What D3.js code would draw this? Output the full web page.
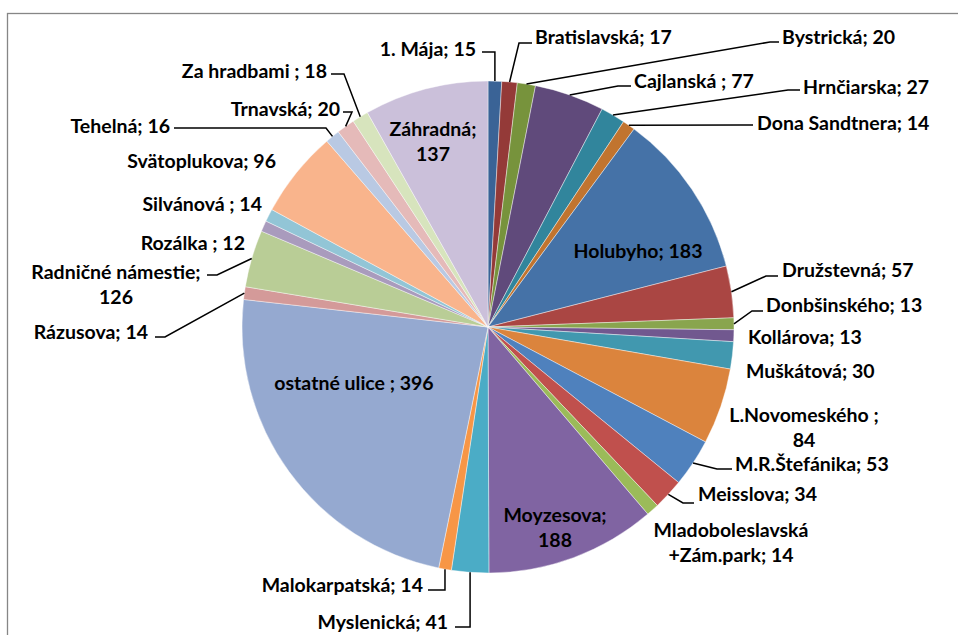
<!DOCTYPE html>
<html lang="sk">
<head>
<meta charset="utf-8">
<title>Ulice</title>
<script src="https://d3js.org/d3.v7.min.js"></script>
<style>
  body { margin: 0; background: #fff; }
  .lbl { font-family: Lato, "Open Sans", sans-serif; font-weight: bold; font-size: 19.5px; fill: #000; }
</style>
</head>
<body>
<div id="chart"></div>
<script>
// street names, clockwise from 12 o'clock
var names = ["1. Mája", "Bratislavská", "Bystrická", "Cajlanská ", "Hrnčiarska", "Dona Sandtnera",
  "Holubyho", "Družstevná", "Donbšinského", "Kollárova", "Muškátová", "L.Novomeského ",
  "M.R.Štefánika", "Meisslova", "Mladoboleslavská +Zám.park", "Moyzesova", "Myslenická",
  "Malokarpatská", "ostatné ulice ", "Rázusova", "Radničné námestie", "Rozálka ", "Silvánová ",
  "Svätoplukova", "Tehelná", "Trnavská", "Za hradbami ", "Záhradná"];

// numbers printed in the labels
var shown = [15, 17, 20, 77, 27, 14, 183, 57, 13, 13, 30, 84, 53, 34, 14, 188, 41, 14, 396, 14, 126, 12, 14, 96, 16, 20, 18, 137];

// slice sizes as drawn (Radničné námestie slice is only about half its printed 126)
var values = [15, 17, 20, 77, 27, 14, 183, 57, 13, 13, 30, 84, 53, 34, 14, 188, 41, 14, 396, 14, 63, 12, 14, 96, 16, 20, 18, 137];

var colors = ["#3a6396", "#943a38", "#77933c", "#604a7b", "#31859c", "#c1742f",
  "#4572a7", "#aa4643", "#89a54e", "#71588f", "#4198af", "#db843d",
  "#4f81bd", "#c0504d", "#9bbb59", "#8064a2", "#4bacc6", "#f79646",
  "#95a9d0", "#d49a99", "#b9cd96", "#a99bbd", "#92c5d6", "#f9b48c",
  "#b9c9e3", "#e5bab9", "#d7e4bd", "#cbc0da"];

// label placement: x, y (middle of first line), anchor, wrap, leader [lx, ly, elbowX]
var layout = [
  {x: 476, y: 48, a: "end", leader: [482, 52, "arc"]},
  {x: 535, y: 36, a: "start", leader: [532, 43, 519]},
  {x: 782, y: 36, a: "start", leader: [779, 42, 770]},
  {x: 634, y: 80, a: "start", leader: [631, 86, 618]},
  {x: 803, y: 86, a: "start", leader: [800, 90, 788]},
  {x: 757, y: 122, a: "start", leader: [753, 125, 740]},
  {x: 638, y: 250, a: "middle"},
  {x: 782, y: 269, a: "start", leader: [778, 276, 766]},
  {x: 766, y: 304, a: "start", leader: [763, 311, 752]},
  {x: 748, y: 336, a: "start"},
  {x: 746, y: 370, a: "start"},
  {x: 804, y: 414, a: "middle", wrap: "value"},
  {x: 735, y: 463, a: "start", leader: [732, 469, 717]},
  {x: 698, y: 493, a: "start", leader: [694, 503, 683]},
  {x: 731, y: 529, a: "middle", wrap: "name"},
  {x: 555, y: 514, a: "middle", wrap: "value"},
  {x: 448, y: 621, a: "end", leader: [455, 627, "arc"]},
  {x: 423, y: 584, a: "end", leader: [428, 590, "arc"]},
  {x: 354, y: 382, a: "middle"},
  {x: 148, y: 331, a: "end", leader: [155, 337, 165]},
  {x: 116, y: 271, a: "middle", wrap: "value", leader: [207, 275, 217]},
  {x: 245, y: 242, a: "end"},
  {x: 262, y: 203, a: "end"},
  {x: 276, y: 160, a: "end"},
  {x: 170, y: 125, a: "end", leader: [174, 128, 326]},
  {x: 340, y: 108, a: "end", leader: [343, 112, 352]},
  {x: 327, y: 70, a: "end", leader: [331, 74, 344]},
  {x: 433, y: 128, a: "middle", wrap: "value"}
];

var W = 958, H = 635, cx = 488, cy = 327, r = 246;

var svg = d3.select("#chart").append("svg")
  .attr("width", W).attr("height", H);

svg.append("rect")
  .attr("x", 7.5).attr("y", 13.5)
  .attr("width", 1000).attr("height", 700)
  .attr("fill", "#fff").attr("stroke", "#868686").attr("stroke-width", 1.3);

var pie = d3.pie().sort(null).value(function(d) { return d; });
var arcs = pie(values);
var arc = d3.arc().innerRadius(0).outerRadius(r);
var edge = d3.arc().innerRadius(r).outerRadius(r);

var g = svg.append("g").attr("transform", "translate(" + cx + "," + cy + ")");

g.selectAll("path.slice")
  .data(arcs)
  .enter().append("path")
  .attr("class", "slice")
  .attr("d", arc)
  .attr("fill", function(d, i) { return colors[i]; })
  .attr("stroke", "#fff")
  .attr("stroke-width", 0.6)
  .attr("stroke-opacity", 0.7);

// leader lines
arcs.forEach(function(d, i) {
  var L = layout[i].leader;
  if (!L) return;
  var p = edge.centroid(d);
  var px = cx + p[0], py = cy + p[1];
  var ex = L[2] === "arc" ? px : L[2];
  svg.append("path")
    .attr("d", d3.line()([[L[0], L[1]], [ex, L[1]], [px, py]]))
    .attr("fill", "none")
    .attr("stroke", "#000")
    .attr("stroke-width", 1.5);
});

// labels
names.forEach(function(n, i) {
  var o = layout[i];
  var full = n + "; " + shown[i];
  var lines = [full];
  if (o.wrap === "value") lines = [n + ";", String(shown[i])];
  if (o.wrap === "name") {
    var k = n.indexOf(" ");
    lines = [n.slice(0, k), n.slice(k + 1) + "; " + shown[i]];
  }
  var t = svg.append("text")
    .attr("class", "lbl")
    .attr("text-anchor", o.a)
    .attr("dominant-baseline", "central");
  lines.forEach(function(s, j) {
    t.append("tspan").attr("x", o.x).attr("y", o.y + j * 25).text(s);
  });
});
</script>
</body>
</html>
